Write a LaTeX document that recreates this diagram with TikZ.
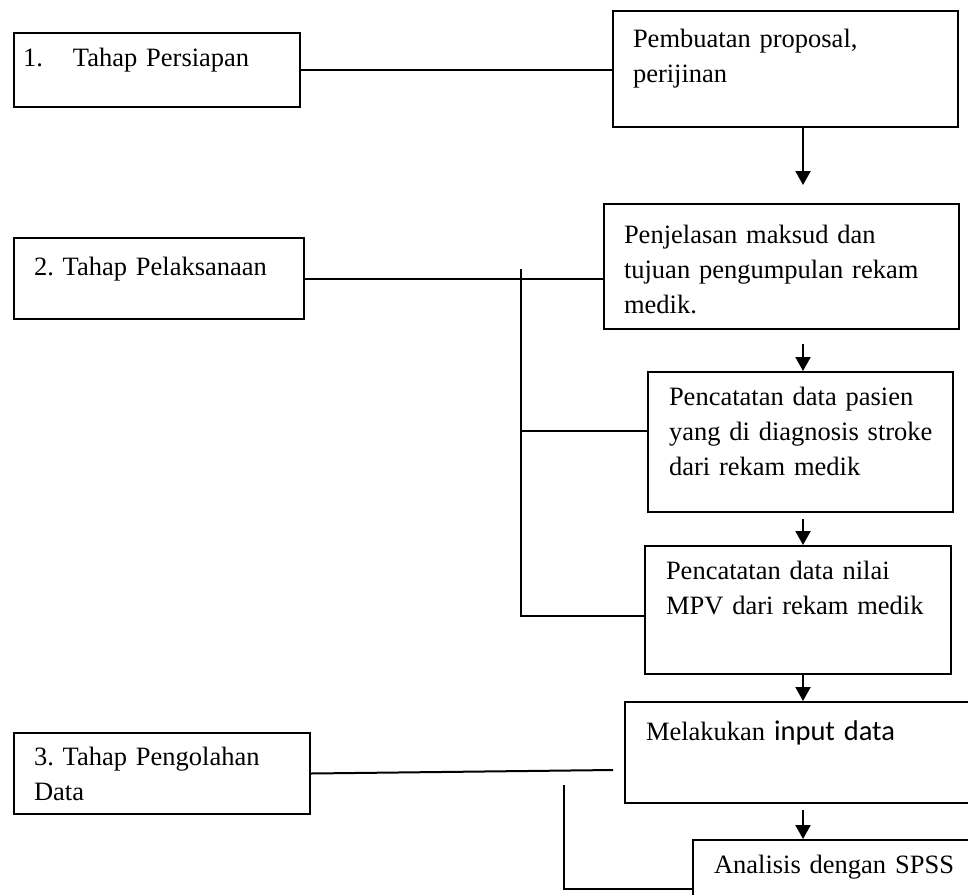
\documentclass[tikz,border=0pt]{standalone}
\usepackage{fontspec}
\setmainfont{Liberation Serif}
\newfontfamily\calibri{Carlito}
\usetikzlibrary{arrows.meta}
\frenchspacing

\begin{document}
\begin{tikzpicture}[x=1pt, y=-1pt, line width=2pt]
    \tikzset{box/.style={draw, anchor=north west, inner sep=0pt},
             txt/.style={anchor=base west, inner sep=0pt, text width=340pt, align=left,
                         font=\fontsize{26.5}{35}\selectfont},
             arr/.style={-{Triangle[length=14pt, width=15pt]}}}

    \useasboundingbox (0,0) rectangle (968,894);
    \clip (0,0) rectangle (968,894);

    % stages
    \node (s1) [box, minimum width=286pt, minimum height=74pt] at (13,32) {};
    \node (s2) [box, minimum width=290pt, minimum height=81pt] at (13,237) {};
    \node (s3) [box, minimum width=296pt, minimum height=81pt] at (13,732) {};
    \node (s1t) [txt] at (22,66) {\makebox[50pt][l]{1.}Tahap Persiapan};
    \node (s2t) [txt] at (33,275) {2. Tahap Pelaksanaan};
    \node (s3t) [txt] at (33,765) {3. Tahap Pengolahan\\Data};

    % steps
    \node (prop) [box, minimum width=345pt, minimum height=116pt] at (612,10) {};
    \node (expl) [box, minimum width=355pt, minimum height=125pt] at (603,203) {};
    \node (pasien) [box, minimum width=305pt, minimum height=140pt] at (647,371) {};
    \node (mpv) [box, minimum width=306pt, minimum height=128pt] at (644,545) {};
    \node (input) [box, minimum width=360pt, minimum height=101pt] at (624,701) {};
    \node (spss) [box, minimum width=300pt, minimum height=98pt] at (692,839) {};
    \node (propt) [txt] at (632,47) {Pembuatan proposal,\\perijinan};
    \node (explt) [txt] at (623,243) {Penjelasan maksud dan\\tujuan pengumpulan rekam\\medik.};
    \node (pasient) [txt] at (668,405) {Pencatatan data pasien\\yang di diagnosis stroke\\dari rekam medik};
    \node (mpvt) [txt] at (665,579) {Pencatatan data nilai\\MPV dari rekam medik};
    \node (inputt) [txt] at (645,740) {Melakukan {\calibri\fontsize{28.5}{35}\selectfont input data}};
    \node (spsst) [txt] at (713,873) {Analisis dengan SPSS};

    \coordinate (spine) at (803,0);
    \coordinate (bus) at (521,269);
    \coordinate (b1) at (521,431);
    \coordinate (b2) at (521,616);
    \coordinate (p3) at (613,770);
    \coordinate (b3) at (564,785);

    \draw (s1.east) -- (s1.east -| prop.west);
    \draw (s2.east) -- (s2.east -| expl.west);
    \draw (bus) -- (b2) -- (b2 -| mpv.west);
    \draw (b1) -- (b1 -| pasien.west);
    \draw (s3.east) -- (p3);
    \draw (b3) |- (spss.west);

    \draw[arr, shorten >=18pt] (prop.south -| spine) -- (expl.north -| spine);
    \draw[arr, shorten <=14pt] (expl.south -| spine) -- (pasien.north -| spine);
    \draw[arr, shorten <=6pt] (pasien.south -| spine) -- (mpv.north -| spine);
    \draw[arr] (mpv.south -| spine) -- (input.north -| spine);
    \draw[arr, shorten <=6pt] (input.south -| spine) -- (spss.north -| spine);
\end{tikzpicture}
\end{document}
